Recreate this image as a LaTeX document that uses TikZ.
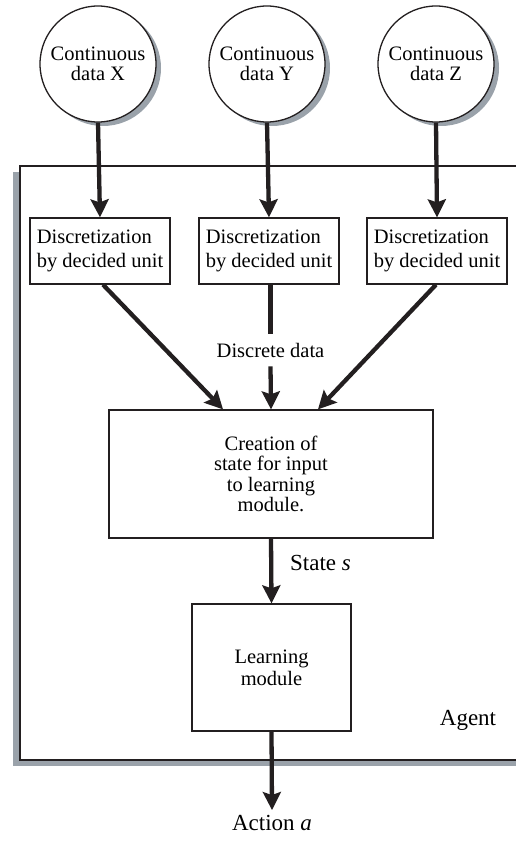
\documentclass[tikz,border=0pt]{standalone}
\usepackage{fontspec}
\setmainfont{Liberation Serif}
\usetikzlibrary{arrows.meta,shadows}
\definecolor{ink}{HTML}{231F20}
\definecolor{shade}{HTML}{9AA2AA}
\tikzset{
  circ/.style={circle, draw=ink, line width=1.3pt, fill=white, minimum size=116pt, inner sep=0pt, align=center,
    font=\fontsize{20.5}{20}\selectfont,
    drop shadow={shadow xshift=5pt, shadow yshift=-4pt, fill=shade, opacity=1}},
  dbox/.style={rectangle, draw=ink, line width=1.3pt, fill=white, minimum width=140pt, minimum height=66pt, inner sep=0pt, align=left,
    font=\fontsize{20.5}{24.5}\selectfont},
  bigbox/.style={rectangle, draw=ink, line width=1.3pt, fill=white, inner sep=0pt, align=center},
  agentbox/.style={rectangle, draw=ink, line width=1.5pt, fill=white, inner sep=0pt,
    drop shadow={shadow xshift=-7pt, shadow yshift=-6pt, fill=shade, opacity=1}},
  lbl/.style={inner sep=0pt, font=\fontsize{23}{27}\selectfont},
  flow/.style={draw=ink, line width=4.3pt, -{Stealth[length=18pt,width=18pt,inset=3pt]}},
  plain/.style={draw=ink, line width=4.3pt}
}
\begin{document}
\begin{tikzpicture}[x=1pt,y=-1pt]
\useasboundingbox (0,0) rectangle (515,842);
% agent container
\node[agentbox, minimum width=530pt, minimum height=594pt] (agent) at (285,463) {};
% input circles
\node[circ] (cx) at (98,64) {Continuous\\data X};
\node[circ] (cy) at (267,64) {Continuous\\data Y};
\node[circ] (cz) at (436,64) {Continuous\\data Z};
% discretization boxes
\node[dbox] (d1) at (100,251) {Discretization\\by decided unit};
\node[dbox] (d2) at (269,251) {Discretization\\by decided unit};
\node[dbox] (d3) at (437,251) {Discretization\\by decided unit};
% creation box
\node[bigbox, minimum width=324pt, minimum height=128pt, font=\fontsize{20.5}{20.5}\selectfont] (cr) at (271,474)
  {Creation of\\state for input\\to learning\\module.};
% learning box
\node[bigbox, minimum width=159pt, minimum height=127pt, font=\fontsize{20.5}{22}\selectfont] (lm) at (271.5,667.5)
  {Learning\\module};
% labels
\node[inner sep=0pt, inner ysep=9pt, font=\fontsize{20.5}{24}\selectfont] (dd) at (270.5,350) {Discrete data};
\node[lbl, anchor=west] (st) at (290,563) {State \textit{s}};
\node[lbl] (ag) at (468,720) {Agent};
\node[lbl, inner ysep=5pt] (act) at (272,823) {Action \textit{a}};
% connectors
\draw[flow] (cx.south) -- (d1.north);
\draw[flow] (cy.south) -- (d2.north);
\draw[flow] (cz.south) -- (d3.north);
\draw[flow] ([xshift=3pt]d1.south) -- ([xshift=-48pt]cr.north);
\draw[plain] (d2.south -| dd.north) -- (dd.north);
\draw[flow] (dd.south) -- (cr.north);
\draw[flow] ([xshift=-1pt]d3.south) -- ([xshift=47pt]cr.north);
\draw[flow] (cr.south) -- (lm.north);
\draw[flow] (lm.south) -- (act.north);
\end{tikzpicture}
\end{document}
